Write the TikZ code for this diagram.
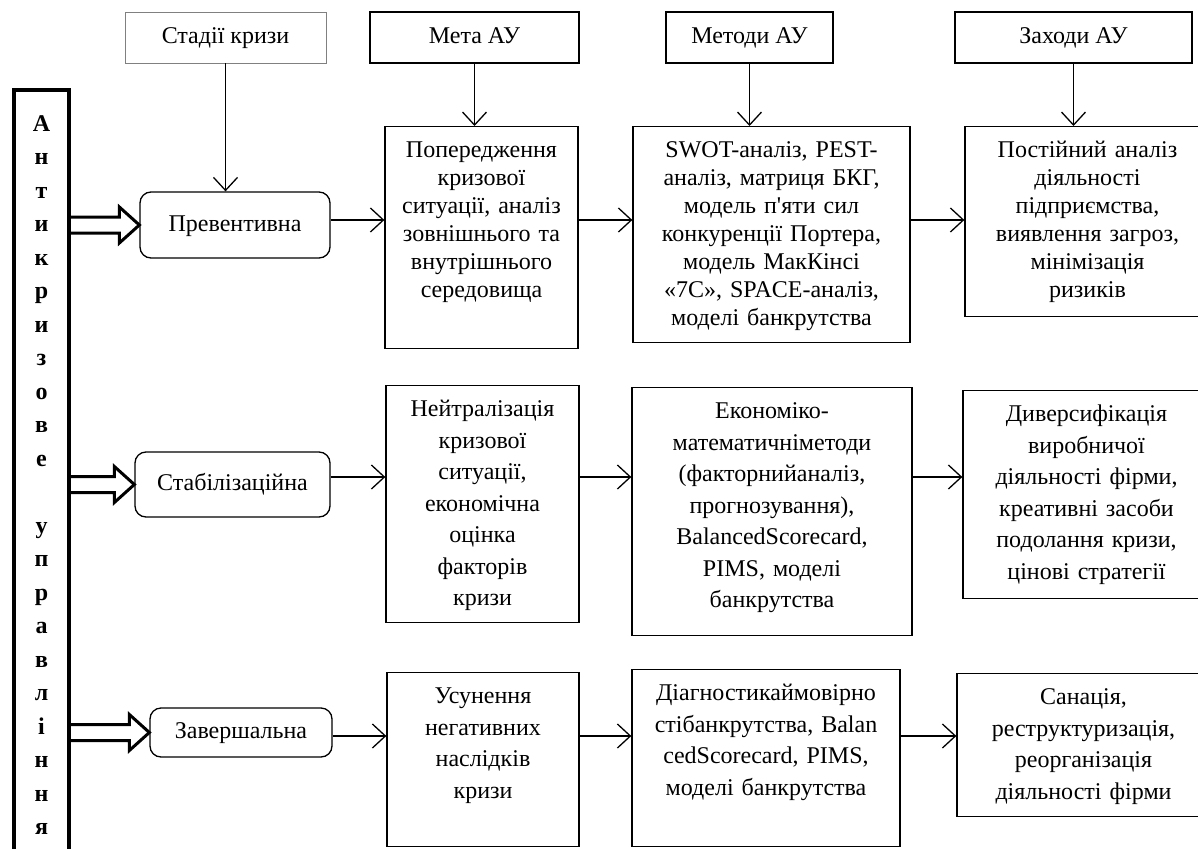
\documentclass[tikz,border=0pt]{standalone}
\usepackage{fontspec}
\setmainfont{Liberation Serif}
\usepackage{tikz}
\usetikzlibrary{arrows.meta}
\usetikzlibrary{calc}

\tikzset{
  every node/.style={font=\fontsize{24}{28}\selectfont},
  loose/.style={font=\fontsize{24}{31.5}\selectfont},
  head/.style={draw, line width=1.3pt, minimum height=51pt, inner sep=0pt,
    text height=17pt, text depth=5pt},
  phase/.style={draw, line width=1.3pt, rounded corners=11pt, inner sep=0pt,
    text height=17pt, text depth=5pt},
  cell/.style 2 args={draw, line width=1.3pt, anchor=north, align=center,
    inner xsep=0pt, inner ysep=0pt, text width=#1, text height=31pt, text depth=#2},
  link/.style={line width=1.3pt, -{Straight Barb[length=13pt,width=24pt]}},
  fatarrow/.style={line width=3pt, to path={let \p1=(\tikztostart), \p2=(\tikztotarget) in
      (\x1,\y2+8pt) -- (\x2-20pt,\y2+8pt) -- (\x2-20pt,\y2+18pt) -- (\x2,\y2)
      -- (\x2-20pt,\y2-18pt) -- (\x2-20pt,\y2-8pt) -- (\x1,\y2-8pt)}},
}

\begin{document}
\begin{tikzpicture}[x=1pt,y=-1pt]
  \useasboundingbox (0,0) rectangle (1198,848);

  % headers
  \node[head, draw=gray, line width=0.8pt, minimum width=201pt] (stage) at (225.5,37.5) {Стадії кризи};
  \node[head, minimum width=209pt] (goal) at (474.5,37.5) {Мета АУ};
  \node[head, minimum width=167pt] (meth) at (749.5,37.5) {Методи АУ};
  \node[head, minimum width=237pt] (act)  at (1073.5,37.5) {Заходи АУ};

  % vertical box
  \node[draw, line width=4pt, minimum width=55pt, minimum height=770pt, inner sep=0pt,
        align=center, font=\fontsize{24}{33.5}\selectfont\bfseries] (anti) at (41.5,475)
    {А\\н\\т\\и\\к\\р\\и\\з\\о\\в\\е\\~\\у\\п\\р\\а\\в\\л\\і\\н\\н\\я};

  % stages
  \node[phase, minimum width=190pt, minimum height=66pt] (prev) at (235,225) {Превентивна};
  \node[phase, minimum width=195pt, minimum height=65pt] (stab) at (232.5,484.5) {Стабілізаційна};
  \node[phase, minimum width=182pt, minimum height=49pt] (fin)  at (241,732.5) {Завершальна};

  % row 1
  \node[cell={193pt}{191pt}] (g1) at (481.5,126)
    {Попередження\\кризової\\ситуації, аналіз\\зовнішнього та\\внутрішнього\\середовища};
  \node[cell={277pt}{185pt}] (m1) at (771.5,126)
    {SWOT-аналіз, PEST-\\аналіз, матриця БКГ,\\модель п\textquotesingle яти сил\\конкуренції Портера,\\модель МакКінсі\\«7С», SPACE-аналіз,\\моделі банкрутства};
  \node[cell={245pt}{159pt}] (a1) at (1087.5,126)
    {Постійний аналіз\\діяльності\\підприємства,\\виявлення загроз,\\мінімізація\\ризиків};

  % row 2
  \node[cell={193pt}{206pt}, loose] (g2) at (482.5,385)
    {Нейтралізація\\кризової\\ситуації,\\економічна\\оцінка\\факторів\\кризи};
  \node[cell={280pt}{217pt}, loose] (m2) at (772,387)
    {Економіко-\\математичніметоди\\(факторнийаналіз,\\прогнозування),\\BalancedScorecard,\\PIMS, моделі\\банкрутства};
  \node[cell={247pt}{177pt}, loose] (a2) at (1086.5,390)
    {Диверсифікація\\виробничої\\діяльності фірми,\\креативні засоби\\подолання кризи,\\цінові стратегії};

  % row 3
  \node[cell={192pt}{143pt}, loose] (g3) at (483,672)
    {Усунення\\негативних\\наслідків\\кризи};
  \node[cell={268pt}{146pt}, loose] (m3) at (766,669)
    {Діагностикаймовірно\\стібанкрутства, Balan\\cedScorecard, PIMS,\\моделі банкрутства};
  \node[cell={253pt}{112pt}, loose] (a3) at (1083.5,673)
    {Санація,\\реструктуризація,\\реорганізація\\діяльності фірми};

  \coordinate (r1) at (0,220);
  \coordinate (r2) at (0,477);
  \coordinate (r3) at (0,736);

  % arrows
  \draw[link] (stage) -- (stage |- prev.north);
  \draw[link] (goal) -- (goal |- g1.north);
  \draw[link] (meth) -- (meth |- m1.north);
  \draw[link] (act) -- (act |- a1.north);

  \draw[link] (prev.east |- r1) -- (g1.west |- r1);
  \draw[link] (g1.east |- r1) -- (m1.west |- r1);
  \draw[link] (m1.east |- r1) -- (a1.west |- r1);
  \draw[link] (stab.east |- r2) -- (g2.west |- r2);
  \draw[link] (g2.east |- r2) -- (m2.west |- r2);
  \draw[link] (m2.east |- r2) -- (a2.west |- r2);
  \draw[link] (fin.east |- r3) -- (g3.west |- r3);
  \draw[link] (g3.east |- r3) -- (m3.west |- r3);
  \draw[link] (m3.east |- r3) -- (a3.west |- r3);

  \draw[fatarrow] (anti.east |- prev) to (prev.west);
  \draw[fatarrow] (anti.east |- stab) to (stab.west);
  \draw[fatarrow] (anti.east |- fin) to (fin.west);
\end{tikzpicture}
\end{document}
